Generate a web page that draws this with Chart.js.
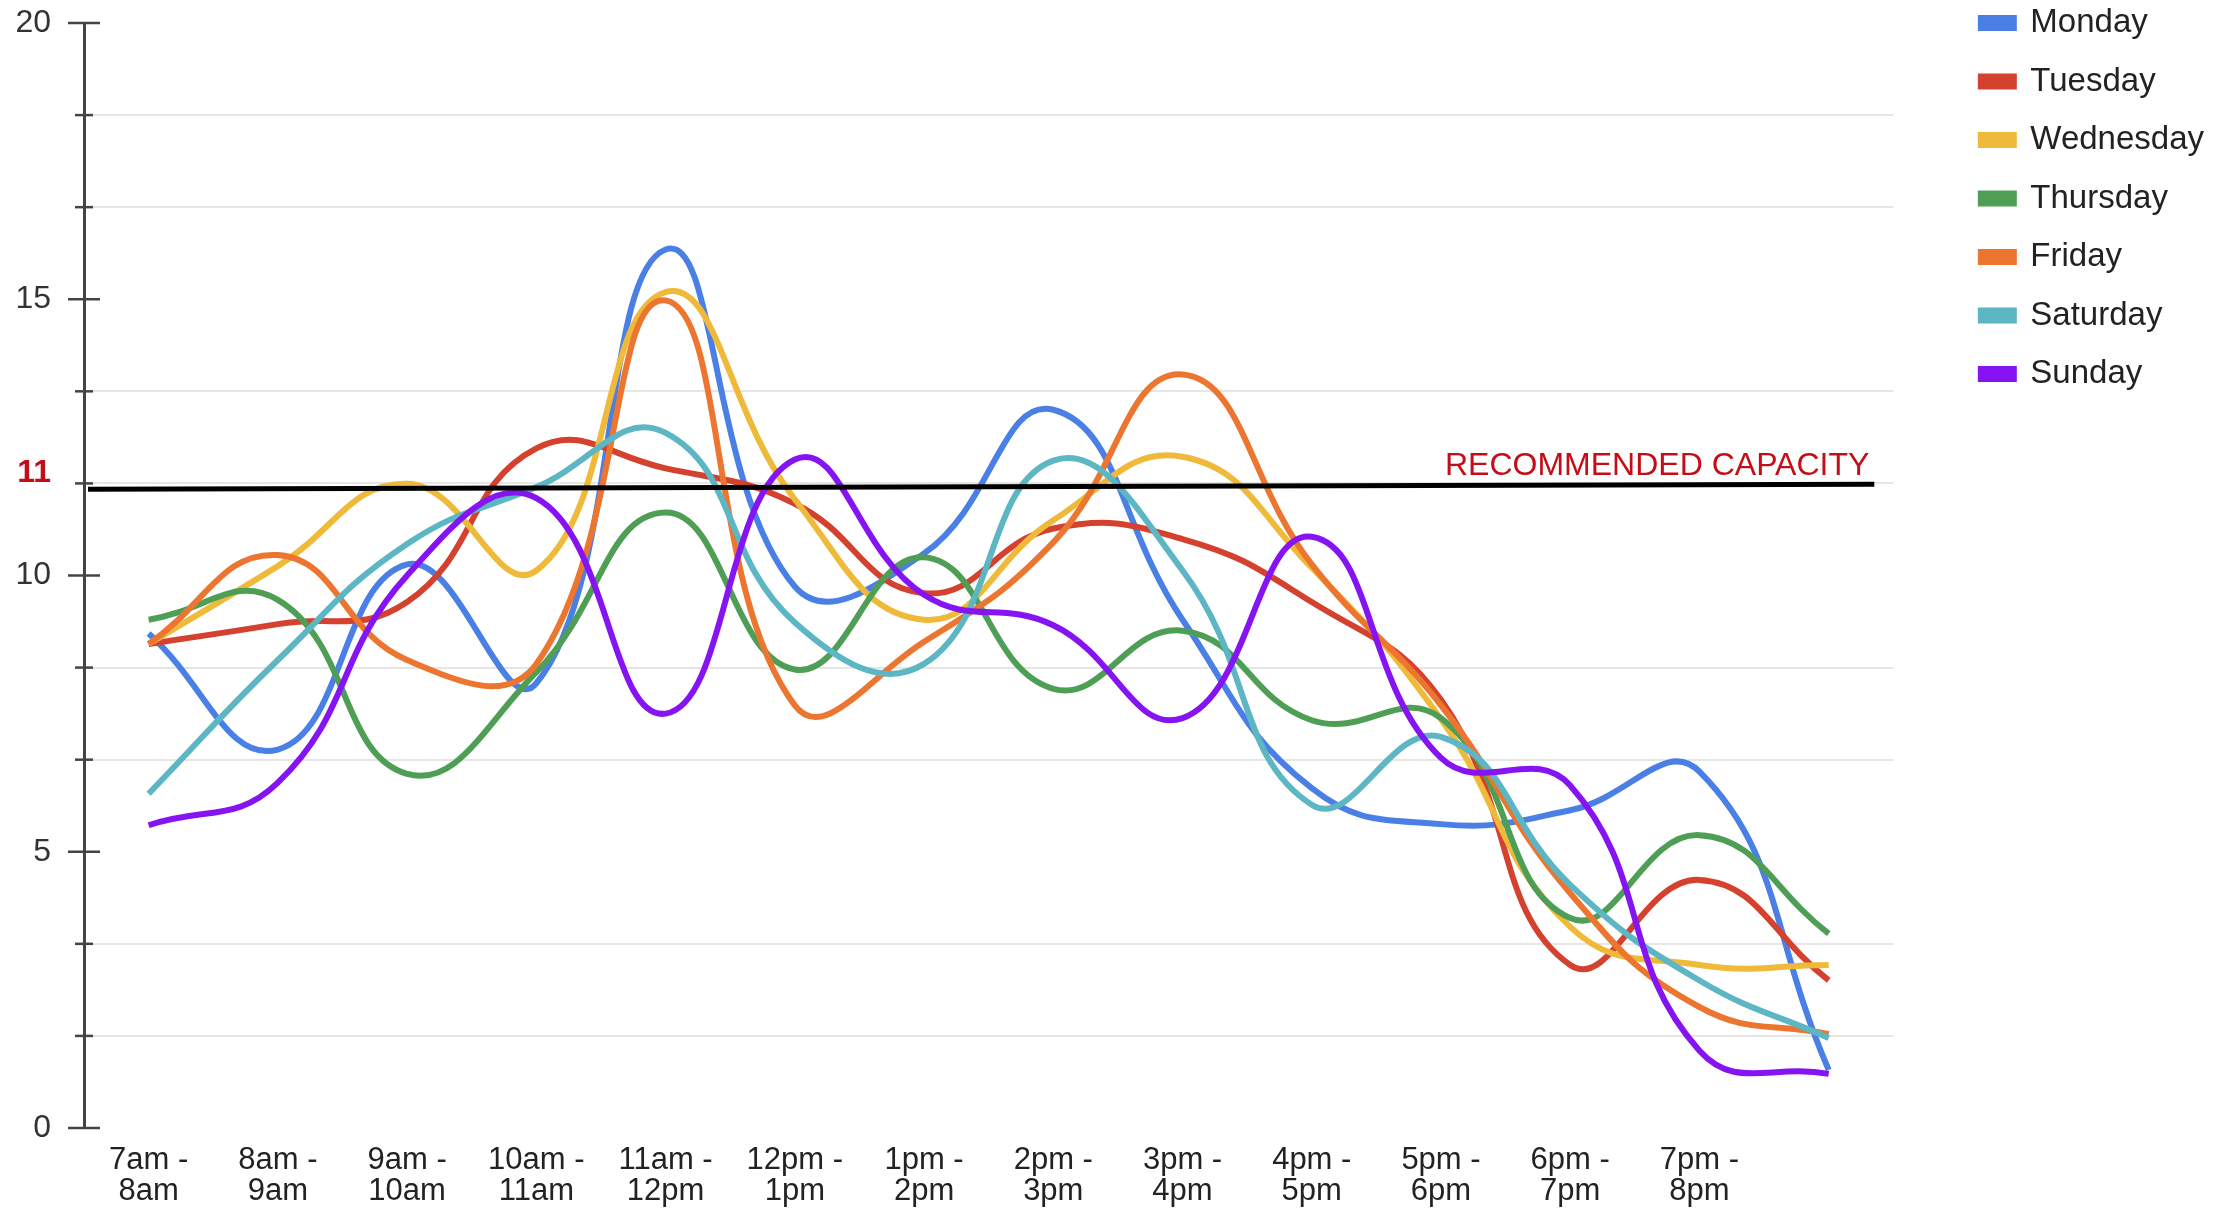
<!DOCTYPE html>
<html>
<head>
<meta charset="utf-8">
<title>Hourly load by weekday</title>
<script src="https://cdn.jsdelivr.net/npm/chart.js@4.4.1/dist/chart.umd.min.js"></script>
<style>
  html, body { margin: 0; padding: 0; background: #ffffff; }
  #wrap { width: 2225px; height: 1215px; position: relative; }
</style>
</head>
<body>
<div id="wrap"><canvas id="loadChart"></canvas></div>
<script>
// Time slots along the x axis (last slot has no label)
const timeSlots = [
  ['7am -', '8am'], ['8am -', '9am'], ['9am -', '10am'], ['10am -', '11am'],
  ['11am -', '12pm'], ['12pm -', '1pm'], ['1pm -', '2pm'], ['2pm -', '3pm'],
  ['3pm -', '4pm'], ['4pm -', '5pm'], ['5pm -', '6pm'], ['6pm -', '7pm'],
  ['7pm -', '8pm'], ''
];

// Values per weekday
const monday    = [8.95, 6.85, 10.2, 8.05, 15.9, 9.8, 10.4, 13.0, 9.2, 6.15, 5.5, 5.75, 6.45, 1.05];
const tuesday   = [8.76, 9.12, 9.52, 12.3, 11.94, 11.3, 9.68, 10.85, 10.66, 9.52, 7.75, 2.95, 4.49, 2.67];
const wednesday = [8.76, 10.17, 11.66, 10.09, 15.13, 11.38, 9.2, 11.0, 12.15, 10.14, 7.4, 3.64, 2.95, 2.95];
const thursday  = [9.2, 9.56, 6.41, 8.25, 11.14, 8.3, 10.33, 7.95, 9.0, 7.38, 7.42, 3.8, 5.3, 3.52];
const friday    = [8.76, 10.37, 8.47, 8.4, 14.98, 7.65, 8.8, 10.6, 13.64, 10.2, 7.65, 4.25, 2.19, 1.7];
const saturday  = [6.05, 8.47, 10.57, 11.6, 12.58, 9.15, 8.4, 12.08, 10.09, 5.85, 7.08, 4.4, 2.67, 1.63];
const sunday    = [5.48, 6.25, 10.0, 11.4, 7.5, 12.1, 9.65, 9.1, 7.42, 10.7, 6.7, 6.2, 1.4, 0.98];

const dayNames = ['Monday', 'Tuesday', 'Wednesday', 'Thursday', 'Friday', 'Saturday', 'Sunday'];
const daySeries = [monday, tuesday, wednesday, thursday, friday, saturday, sunday];
const dayColors = ['#4a80e6', '#d4412f', '#efba3a', '#4e9f55', '#ec7630', '#5db6c3', '#8614f2'];

// Y axis: labelled every 5, minor marks every 5/3
const yMin = 0;
const yMax = 20;
const yMajorLabels = [0, 5, 10, 15, 20];
const yMinorStep = 5 / 3;

// Recommended capacity marker (hand drawn, slightly tilted)
const capacityStart = 11.56;
const capacityEnd = 11.65;
const capacityMark = '11';
const capacityText = 'RECOMMENDED CAPACITY';

const FONT = '"Liberation Sans", Arial, Helvetica, sans-serif';
const AXIS_COLOR = '#444444';

const isMajor = (v) => yMajorLabels.some(m => Math.abs(m - v) < 1e-6);

// Tick marks crossing the y axis, capacity line and its labels
const axisDecor = {
  id: 'axisDecor',
  afterDraw(chart) {
    const { ctx, chartArea, scales: { y } } = chart;
    const ax = chartArea.left;
    ctx.save();
    ctx.strokeStyle = AXIS_COLOR;
    ctx.lineWidth = 2.5;
    y.ticks.forEach(t => {
      const py = y.getPixelForValue(t.value);
      const major = isMajor(t.value);
      ctx.beginPath();
      ctx.moveTo(ax - (major ? 16 : 9), py);
      ctx.lineTo(ax + (major ? 16 : 9), py);
      ctx.stroke();
    });
    ctx.restore();
  },
  afterDatasetsDraw(chart) {
    const { ctx, chartArea, scales: { y } } = chart;
    const x0 = chartArea.left + 4;
    const x1 = chartArea.right - 19;
    const y0 = y.getPixelForValue(capacityStart);
    const y1 = y.getPixelForValue(capacityEnd);
    ctx.save();
    ctx.strokeStyle = '#000000';
    ctx.lineWidth = 5;
    ctx.lineCap = 'butt';
    ctx.beginPath();
    ctx.moveTo(x0, y0);
    ctx.lineTo(x1, y1);
    ctx.stroke();

    ctx.fillStyle = '#c40d16';
    ctx.font = '32px ' + FONT;
    ctx.textAlign = 'right';
    ctx.textBaseline = 'alphabetic';
    ctx.fillText(capacityText, x1 - 5, y1 - 9);

    ctx.font = 'bold 32px ' + FONT;
    ctx.textBaseline = 'middle';
    ctx.fillText(capacityMark, chartArea.left - 33, y0 - 16);
    ctx.restore();
  }
};

// Push the legend a little away from the plot and up to the top edge
const legendNudge = {
  id: 'legendNudge',
  afterLayout(chart) {
    const lg = chart.legend;
    const dx = 62, dy = -42;
    lg.left += dx; lg.right += dx;
    lg.top += dy; lg.bottom += dy;
  }
};

const datasets = dayNames.map((name, i) => ({
  label: name,
  data: daySeries[i],
  borderColor: dayColors[i],
  backgroundColor: dayColors[i],
  borderWidth: 6,
  pointRadius: 0,
  tension: 0.45,
  fill: false,
  order: dayNames.length - i
}));

new Chart(document.getElementById('loadChart'), {
  type: 'line',
  data: { labels: timeSlots, datasets: datasets },
  options: {
    responsive: true,
    maintainAspectRatio: false,
    animation: false,
    devicePixelRatio: 1,
    layout: { padding: { top: 23, right: 73, bottom: 8, left: 0 } },
    plugins: {
      tooltip: { enabled: false },
      legend: {
        position: 'right',
        align: 'start',
        labels: {
          boxWidth: 33,
          boxHeight: 10,
          padding: 25.5,
          color: '#222222',
          font: { family: FONT, size: 33 },
          sort: (a, b) => a.datasetIndex - b.datasetIndex
        }
      }
    },
    scales: {
      x: {
        offset: true,
        afterFit(scale) { scale.height = 79; },
        grid: { display: false, drawTicks: false },
        border: { display: false },
        ticks: {
          autoSkip: false,
          maxRotation: 0,
          padding: 17,
          color: '#222222',
          font: { family: FONT, size: 31, lineHeight: 1.0 }
        }
      },
      y: {
        min: yMin,
        max: yMax,
        afterBuildTicks(scale) {
          const ticks = [];
          for (let k = 0; k <= Math.round((yMax - yMin) / yMinorStep); k++) {
            ticks.push({ value: yMin + k * yMinorStep });
          }
          scale.ticks = ticks;
        },
        afterFit(scale) {
          scale.width = 84;
          scale.paddingTop = 0;
          scale.paddingBottom = 0;
        },
        grid: {
          color: (c) => (c.tick && isMajor(c.tick.value)) ? 'rgba(0,0,0,0)' : '#e6e6e6',
          lineWidth: 2,
          drawTicks: true,
          tickLength: 16,
          tickColor: 'rgba(0,0,0,0)'
        },
        border: { display: true, color: AXIS_COLOR, width: 3 },
        ticks: {
          padding: 17,
          color: '#333333',
          font: { family: FONT, size: 32 },
          callback: (v) => isMajor(v) ? String(Math.round(v)) : ''
        }
      }
    }
  },
  plugins: [axisDecor, legendNudge]
});
</script>
</body>
</html>
